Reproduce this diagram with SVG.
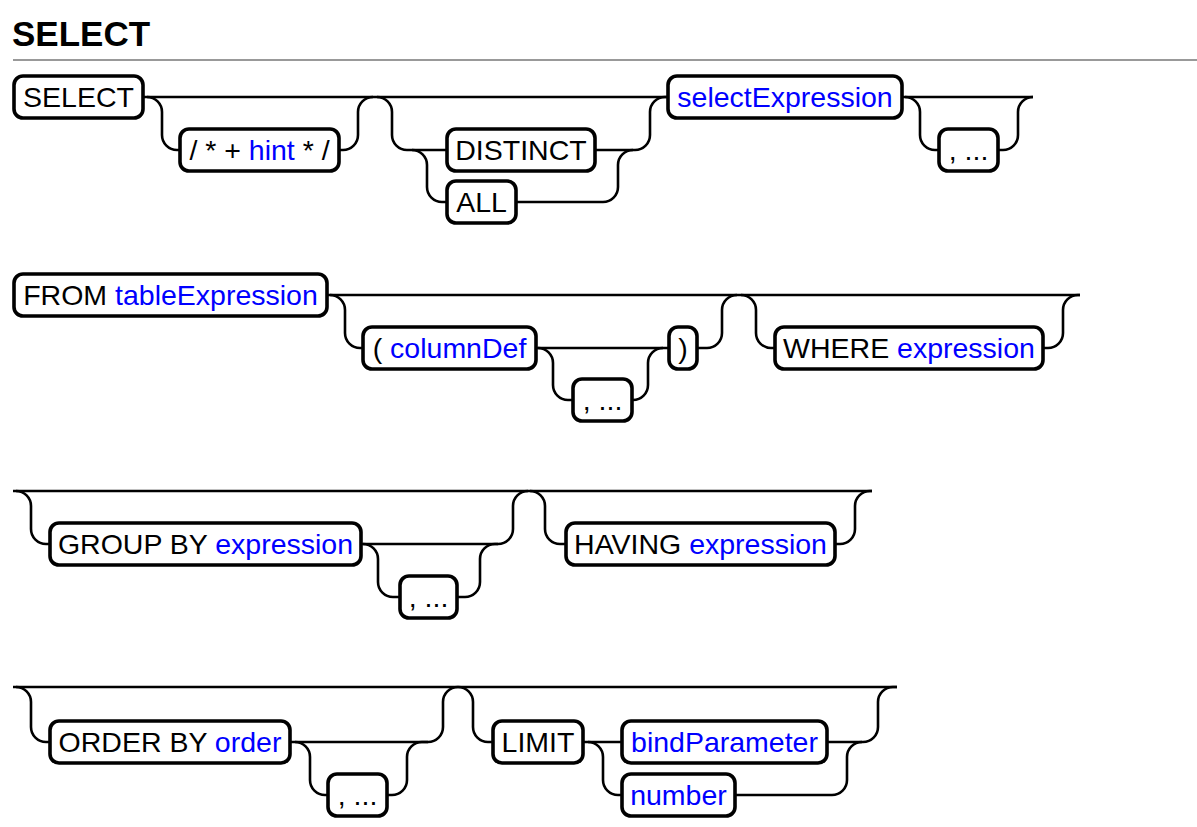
<svg xmlns="http://www.w3.org/2000/svg" width="1197" height="827" viewBox="0 0 1197 827">
<style>
.t{font-family:"Liberation Sans",Arial,sans-serif;font-size:28.5px;fill:#000;text-anchor:middle}
.n{fill:#0000ff}
.b{fill:#fff;stroke:#000;stroke-width:3.6}
.c path{fill:none;stroke:#000;stroke-width:2.6}
.h{font-family:"Liberation Sans",Arial,sans-serif;font-size:35px;font-weight:bold;fill:#000}
</style>
<rect width="1197" height="827" fill="#fff"/>
<text class="h" x="12" y="46">SELECT</text>
<line x1="13" y1="60" x2="1197" y2="60" stroke="#999" stroke-width="2"/>
<g class="c" id="connectors">
<!-- row 1 -->
<path d="M143,97 H668"/>
<path d="M147,97 A15,15 0 0 1 162,112 V135 A15,15 0 0 0 177,150 H180"/>
<path d="M339,150 H343 A15,15 0 0 0 358,135 V112 A15,15 0 0 1 373,97"/>
<path d="M377,97 A15,15 0 0 1 392,112 V135 A15,15 0 0 0 407,150 H447"/>
<path d="M412,150 A15,15 0 0 1 427,165 V187 A15,15 0 0 0 442,202 H447"/>
<path d="M516,202 H603 A15,15 0 0 0 618,187 V165 A15,15 0 0 1 633,150"/>
<path d="M595,150 H635 A15,15 0 0 0 650,135 V112 A15,15 0 0 1 665,97 H668"/>
<path d="M902,97 H1033"/>
<path d="M905,97 A15,15 0 0 1 920,112 V135 A15,15 0 0 0 935,150 H939"/>
<path d="M998,150 H1003 A15,15 0 0 0 1018,135 V112 A15,15 0 0 1 1033,97"/>
<!-- row 2 -->
<path d="M327,295 H1080"/>
<path d="M330,295 A15,15 0 0 1 345,310 V333 A15,15 0 0 0 360,348 H363"/>
<path d="M536,348 H669"/>
<path d="M538,348 A15,15 0 0 1 553,363 V385 A15,15 0 0 0 568,400 H573"/>
<path d="M632,400 H633 A15,15 0 0 0 648,385 V363 A15,15 0 0 1 663,348"/>
<path d="M697,348 H707 A15,15 0 0 0 722,333 V310 A15,15 0 0 1 737,295"/>
<path d="M741,295 A15,15 0 0 1 756,310 V333 A15,15 0 0 0 771,348 H775"/>
<path d="M1043,348 H1048 A15,15 0 0 0 1063,333 V310 A15,15 0 0 1 1078,295 H1080"/>
<!-- row 3 -->
<path d="M13,491 H872"/>
<path d="M16,491 A15,15 0 0 1 31,506 V529 A15,15 0 0 0 46,544 H50"/>
<path d="M361,544 H498"/>
<path d="M363,544 A15,15 0 0 1 378,559 V582 A15,15 0 0 0 393,597 H400"/>
<path d="M457,597 H465 A15,15 0 0 0 480,582 V559 A15,15 0 0 1 495,544"/>
<path d="M495,544 H498 A15,15 0 0 0 513,529 V506 A15,15 0 0 1 528,491"/>
<path d="M530,491 A15,15 0 0 1 545,506 V529 A15,15 0 0 0 560,544 H566"/>
<path d="M835,544 H840 A15,15 0 0 0 855,529 V506 A15,15 0 0 1 870,491 H872"/>
<!-- row 4 -->
<path d="M13,687 H897"/>
<path d="M16,687 A15,15 0 0 1 31,702 V727 A15,15 0 0 0 46,742 H50"/>
<path d="M290,742 H428"/>
<path d="M295,742 A15,15 0 0 1 310,757 V780 A15,15 0 0 0 325,795 H328"/>
<path d="M387,795 H392 A15,15 0 0 0 407,780 V757 A15,15 0 0 1 422,742"/>
<path d="M422,742 H428 A15,15 0 0 0 443,727 V702 A15,15 0 0 1 458,687"/>
<path d="M458,687 A15,15 0 0 1 473,702 V727 A15,15 0 0 0 488,742 H493"/>
<path d="M583,742 H622"/>
<path d="M588,742 A15,15 0 0 1 603,757 V780 A15,15 0 0 0 618,795 H622"/>
<path d="M735,795 H832 A15,15 0 0 0 847,780 V757 A15,15 0 0 1 862,742"/>
<path d="M827,742 H863 A15,15 0 0 0 878,727 V702 A15,15 0 0 1 893,687 H897"/>
</g>
<!-- row 1 nodes -->
<g id="n-select"><rect class="b" x="14" y="76" width="129" height="42" rx="9"/><text class="t" x="78.5" y="107">SELECT</text></g>
<g id="n-hint"><rect class="b" x="180" y="129" width="159" height="42" rx="9"/><text class="t" x="259.5" y="160">/ * + <tspan class="n">hint</tspan> * /</text></g>
<g id="n-distinct"><rect class="b" x="447" y="129" width="148" height="42" rx="9"/><text class="t" x="521" y="160">DISTINCT</text></g>
<g id="n-all"><rect class="b" x="447" y="181" width="69" height="42" rx="9"/><text class="t" x="481.5" y="212">ALL</text></g>
<g id="n-selectexpression"><rect class="b" x="668" y="76" width="234" height="42" rx="9"/><text class="t n" x="785" y="107">selectExpression</text></g>
<g id="n-comma1"><rect class="b" x="939" y="129" width="59" height="42" rx="9"/><text class="t" x="968.5" y="160">, ...</text></g>
<!-- row 2 nodes -->
<g id="n-from"><rect class="b" x="14" y="274" width="313" height="42" rx="9"/><text class="t" x="170.5" y="305">FROM <tspan class="n">tableExpression</tspan></text></g>
<g id="n-columndef"><rect class="b" x="363" y="327" width="173" height="42" rx="9"/><text class="t" x="449.5" y="358">( <tspan class="n">columnDef</tspan></text></g>
<g id="n-comma2"><rect class="b" x="573" y="379" width="59" height="42" rx="9"/><text class="t" x="602.5" y="410">, ...</text></g>
<g id="n-rparen"><rect class="b" x="669" y="327" width="28" height="42" rx="9"/><text class="t" x="683" y="358">)</text></g>
<g id="n-where"><rect class="b" x="775" y="327" width="268" height="42" rx="9"/><text class="t" x="909" y="358">WHERE <tspan class="n">expression</tspan></text></g>
<!-- row 3 nodes -->
<g id="n-groupby"><rect class="b" x="50" y="523" width="311" height="42" rx="9"/><text class="t" x="205.5" y="554">GROUP BY <tspan class="n">expression</tspan></text></g>
<g id="n-comma3"><rect class="b" x="400" y="576" width="57" height="42" rx="9"/><text class="t" x="428.5" y="607">, ...</text></g>
<g id="n-having"><rect class="b" x="566" y="523" width="269" height="42" rx="9"/><text class="t" x="700.5" y="554">HAVING <tspan class="n">expression</tspan></text></g>
<!-- row 4 nodes -->
<g id="n-orderby"><rect class="b" x="50" y="721" width="240" height="42" rx="9"/><text class="t" x="170" y="752">ORDER BY <tspan class="n">order</tspan></text></g>
<g id="n-comma4"><rect class="b" x="328" y="774" width="59" height="42" rx="9"/><text class="t" x="357.5" y="805">, ...</text></g>
<g id="n-limit"><rect class="b" x="493" y="721" width="90" height="42" rx="9"/><text class="t" x="538" y="752">LIMIT</text></g>
<g id="n-bindparameter"><rect class="b" x="622" y="721" width="205" height="42" rx="9"/><text class="t n" x="724.5" y="752">bindParameter</text></g>
<g id="n-number"><rect class="b" x="622" y="774" width="113" height="42" rx="9"/><text class="t n" x="678.5" y="805">number</text></g>
</svg>
